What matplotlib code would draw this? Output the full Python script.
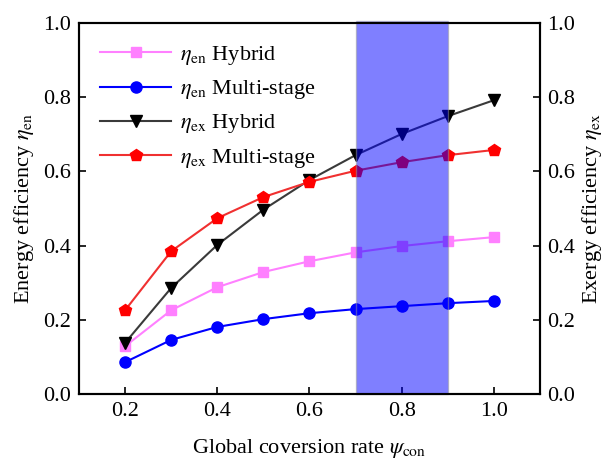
import matplotlib
matplotlib.use("Agg")
import matplotlib.pyplot as plt

plt.rcParams['font.family'] = ['Liberation Serif', 'DejaVu Serif']
plt.rcParams['mathtext.fontset'] = 'stix'
plt.rcParams['font.size'] = 16

x = [0.2, 0.3, 0.4, 0.5, 0.6, 0.7, 0.8, 0.9, 1.0]
en_hybrid = [0.129, 0.226, 0.288, 0.329, 0.358, 0.382, 0.399, 0.412, 0.423]
en_multi = [0.086, 0.146, 0.181, 0.202, 0.218, 0.229, 0.237, 0.245, 0.251]
ex_hybrid = [0.138, 0.286, 0.402, 0.497, 0.577, 0.644, 0.701, 0.749, 0.792]
ex_multi = [0.226, 0.385, 0.474, 0.531, 0.572, 0.602, 0.625, 0.644, 0.658]
shade = (0.7, 0.9)
xticks = [0.2, 0.4, 0.6, 0.8, 1.0]
yticks = [0.0, 0.2, 0.4, 0.6, 0.8, 1.0]

fig = plt.figure(figsize=(6.10, 4.62), dpi=100)
ax = fig.add_axes([0.1295, 0.147, 0.7555, 0.803])

ax.plot(x, en_hybrid, '-s', color='#FF80FF', mfc='#FF80FF', mec='#FF80FF', ms=7.5, lw=1.5,
        label=r'$\eta_{\rm en}$ Hybrid')
ax.plot(x, en_multi, '-o', color='#0000FF', ms=8, lw=1.5,
        label=r'$\eta_{\rm en}$ Multi-stage')
ax.plot(x, ex_hybrid, '-v', color='#3a3a3a', mfc='black', mec='black', ms=9, lw=1.5,
        label=r'$\eta_{\rm ex}$ Hybrid')
ax.plot(x, ex_multi, '-p', color='#F03030', mfc='#FF0000', mec='#FF0000', ms=9, lw=1.5,
        label=r'$\eta_{\rm ex}$ Multi-stage')

ax.axvspan(shade[0], shade[1], ymin=0, ymax=1.005, facecolor='#0000FF', alpha=0.5,
           edgecolor='#999999', lw=1, zorder=5, clip_on=False)

ax.set_xlim(0.1, 1.1)
ax.set_ylim(0, 1.0)
ax.set_xticks(xticks)
ax.set_xticklabels([f'{v:.1f}' for v in xticks])
ax.set_yticks(yticks)
ax.set_yticklabels([f'{v:.1f}' for v in yticks])
ax.tick_params(direction='in', length=5, width=1.2, labelsize=16, pad=6)
for s in ax.spines.values():
    s.set_linewidth(1.5)

ax.set_xlabel(r'Global coversion rate $\psi_{\rm con}$', fontsize=16, labelpad=11)
ax.set_ylabel(r'Energy efficiency $\eta_{\rm en}$', fontsize=16, labelpad=5)

ax2 = ax.twinx()
ax2.set_ylim(0, 1.0)
ax2.set_yticks(yticks)
ax2.set_yticklabels([f'{v:.1f}' for v in yticks])
ax2.tick_params(direction='in', length=5, width=1.2, labelsize=16, pad=5)
ax2.set_ylabel(r'Exergy efficiency $\eta_{\rm ex}$', fontsize=16, labelpad=4)
for s in ax2.spines.values():
    s.set_linewidth(1.5)

ax.legend(loc='upper left', frameon=False, fontsize=16, handlelength=3.2,
          borderaxespad=0.55, labelspacing=0.5, handletextpad=0.4)

fig.savefig('out.png', dpi=100)
